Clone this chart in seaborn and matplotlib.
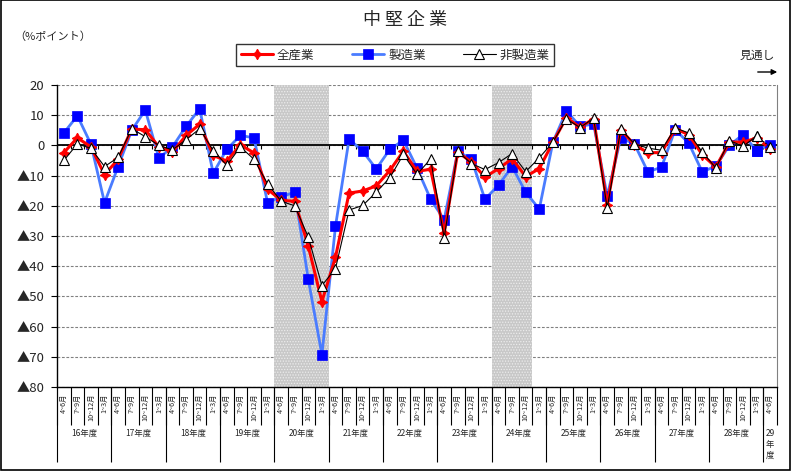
import numpy as np
import pandas as pd
import matplotlib
matplotlib.use("Agg")
import matplotlib.pyplot as plt
import seaborn as sns
from matplotlib.patches import Rectangle
from matplotlib.lines import Line2D

# ---------------- data ----------------
years = ["16年度", "17年度", "18年度", "19年度", "20年度", "21年度", "22年度",
         "23年度", "24年度", "25年度", "26年度", "27年度", "28年度", "29\n年\n度"]
quarters = ["4~6月", "7~9月", "10~12月", "1~3月"]
quarters_per_year = [4, 4, 4, 4, 4, 4, 4, 4, 4, 4, 4, 4, 4, 1]

all_industries = [-2.4, 2.5, -0.5, -9.7, -4.6, 5.4, 5.2, -0.5, -2.2, 3.3, 7.0, -3.3,
                  -5.2, 0.2, -2.5, -14.5, -18.2, -18.5, -33.4, -51.7, -37.0, -15.8,
                  -15.1, -13.4, -8.3, -1.9, -8.6, -7.9, -29.0, -2.2, -5.5, -10.5,
                  -7.7, -4.4, -10.3, -7.7, 1.0, 9.2, 6.0, 8.8, -19.6, 5.2, 0.2,
                  -2.4, -2.4, 5.5, 3.6, -3.1, -7.2, 1.1, 1.1, 2.4, -1.1]
manufacturing = [4.1, 9.8, 0.4, -19.0, -7.0, 5.0, 11.7, -4.2, -0.5, 6.3, 12.1, -9.2,
                 -1.3, 3.3, 2.5, -19.0, -17.0, -15.5, -44.4, -69.3, -26.8, 2.1,
                 -1.9, -7.8, -1.3, 1.7, -7.5, -17.8, -24.6, -2.0, -4.5, -17.8,
                 -13.2, -7.0, -15.5, -21.1, 1.0, 11.4, 6.3, 7.1, -16.8, 2.5, 0.5,
                 -8.8, -7.2, 5.2, 0.8, -8.8, -6.8, 0.0, 3.6, -1.7, 0.2]
non_manufacturing = [-5.0, 0.5, -1.0, -7.0, -4.0, 5.5, 2.9, 0.0, -1.5, 1.9, 5.5, -1.7,
                     -6.6, -0.5, -4.6, -12.7, -18.5, -20.0, -30.4, -46.4, -40.8, -21.4,
                     -19.9, -15.5, -10.7, -3.0, -9.6, -4.5, -30.6, -2.0, -6.0, -8.0,
                     -5.7, -2.7, -8.7, -4.1, 1.0, 8.8, 5.9, 9.0, -20.8, 5.3, 0.5,
                     -0.9, -1.6, 5.8, 4.1, -2.2, -7.5, 1.6, -0.3, 3.1, -0.5]
series_names = ["全産業", "製造業", "非製造業"]
shade_periods = [(16, 19), (32, 34)]   # index ranges of shaded quarters
forecast_points = 1                    # last point is a forecast (見通し)

# ---------------- build ----------------
q_labels = []
for n in quarters_per_year:
    q_labels += quarters[:n]
n = len(q_labels)
pos = np.arange(n)
df = pd.DataFrame({"pos": pos, "全産業": all_industries,
                   "製造業": manufacturing, "非製造業": non_manufacturing})

sns.set_theme(style="white")
plt.rcParams["font.family"] = ["Noto Sans CJK JP", "DejaVu Sans"]
plt.rcParams["hatch.linewidth"] = 0.6

fig = plt.figure(figsize=(7.93, 4.73), dpi=100)
ax = fig.add_axes([57 / 793, 1 - 387 / 473, 720 / 793, 302 / 473])
ax.set_xlim(-0.5, n - 0.5)
ax.set_ylim(-80, 20)

# shading
for a, b in shade_periods:
    ax.axvspan(a - 0.5, b + 0.5, facecolor="#c8c8c8", edgecolor="#ececec",
               hatch="......", linewidth=0, zorder=1)

# grid & zero line
ax.set_axisbelow(True)
ax.yaxis.grid(True, color="#808080", linestyle=(0, (2.5, 1.5)), linewidth=0.8)
ax.axhline(0, color="black", linewidth=1.3, zorder=2)

styles = {
    "製造業": dict(color="#4a7cff", linewidth=2.0, marker="s", markersize=6.8,
                markerfacecolor="#0000ff", markeredgecolor="#0000ff",
                markeredgewidth=0.5),
    "全産業": dict(color="#ff0000", linewidth=2.2, marker=(4, 1, 0), markersize=7.5,
                markerfacecolor="#ff0000", markeredgecolor="#ff0000",
                markeredgewidth=0.8),
    "非製造業": dict(color="black", linewidth=0.8, marker="^", markersize=7,
                 markerfacecolor="white", markeredgecolor="black",
                 markeredgewidth=0.8),
}
zo = {"製造業": 3, "全産業": 4, "非製造業": 5}
split = n - forecast_points
for name in ["製造業", "全産業", "非製造業"]:
    st = styles[name]
    sns.lineplot(data=df.iloc[:split], x="pos", y=name, ax=ax, zorder=zo[name],
                 legend=False, **st)
    sns.lineplot(data=df.iloc[split - 1:], x="pos", y=name, ax=ax, zorder=zo[name],
                 legend=False, linestyle=(0, (1.5, 1)), **st)

# axes styling
ax.spines["top"].set_visible(False)
ax.spines["right"].set_color("#808080")
ax.spines["right"].set_linewidth(0.8)
ax.spines["left"].set_color("black")
ax.spines["left"].set_linewidth(1.0)
ax.spines["bottom"].set_color("black")
ax.spines["bottom"].set_linewidth(1.0)
ax.set_xlabel("")
ax.set_ylabel("")

yt = list(range(-80, 21, 10))
ax.set_yticks(yt)
ax.set_yticklabels([("▲" + str(-v)) if v < 0 else str(v) for v in yt], fontsize=9.5)
ax.tick_params(axis="y", direction="out", length=4, width=0.8, color="black", pad=5,
               left=True)

ax.set_xticks(pos)
ax.set_xticklabels(q_labels, rotation=90, fontsize=5.2)
ax.set_xticks(np.arange(n + 1) - 0.5, minor=True)
ax.tick_params(axis="x", which="major", length=0, pad=5)
ax.tick_params(axis="x", which="minor", direction="out", length=27, width=0.8,
               color="black", bottom=True)

# year axis
bounds = np.concatenate([[0], np.cumsum(quarters_per_year)]) - 0.5
centers = (bounds[:-1] + bounds[1:]) / 2
sec = ax.secondary_xaxis("bottom")
sec.set_xticks(bounds[:-1])
sec.set_xticklabels([""] * (len(bounds) - 1))
sec.set_xticks(centers, minor=True)
sec.set_xticklabels(years, minor=True, fontsize=6, linespacing=1.3)
sec.tick_params(axis="x", which="major", direction="out", length=54, width=0.8,
                color="black")
sec.tick_params(axis="x", which="minor", length=0, pad=30)
for s in sec.spines.values():
    s.set_visible(False)

# zero line small ticks
zt = ax.secondary_xaxis(0.8)
zt.set_xticks(np.arange(n + 1) - 0.5)
zt.set_xticklabels([])
zt.xaxis.set_ticks_position("bottom")
zt.tick_params(axis="x", direction="out", length=3, width=0.8, color="black",
               labelbottom=False, labeltop=False)
for s in zt.spines.values():
    s.set_visible(False)

# legend
handles = [Line2D([], [], **styles[nm]) for nm in series_names]
leg = fig.legend(handles, series_names, loc="center", bbox_to_anchor=(395 / 793, 1 - 55 / 473),
                 ncol=3, frameon=True, fancybox=False, fontsize=9, handlelength=2.6,
                 columnspacing=3.0, borderpad=0.35, handletextpad=0.3,
                 borderaxespad=0)
leg.get_frame().set_edgecolor("black")
leg.get_frame().set_linewidth(1.0)

# texts
fig.text(405 / 793, 1 - 20 / 473, "中 堅 企 業", ha="center", va="center", fontsize=13)
fig.text(14 / 793, 1 - 37 / 473, "（%ポイント）", ha="left", va="center", fontsize=8)
fig.text(757 / 793, 1 - 55 / 473, "見通し", ha="center", va="center", fontsize=8.5)
fig.add_artist(matplotlib.patches.FancyArrowPatch(
    (755 / 793, 1 - 72 / 473), (780 / 793, 1 - 72 / 473), transform=fig.transFigure,
    arrowstyle="-|>", mutation_scale=8, color="black", linewidth=1))

# outer frame
fig.add_artist(Rectangle((0.001, 3 / 473), 0.995, 1 - 3 / 473 - 0.001,
                         transform=fig.transFigure, fill=False,
                         edgecolor="black", linewidth=1.2))

fig.savefig("out.png", dpi=100)
